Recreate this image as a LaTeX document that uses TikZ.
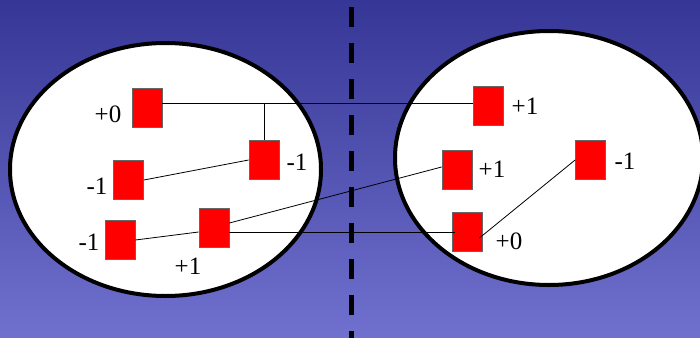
\documentclass[tikz,border=0pt]{standalone}
\usepackage{fontspec}
\setmainfont{Liberation Serif}
\usetikzlibrary{shapes.geometric}
\definecolor{bgtop}{RGB}{54,54,150}
\definecolor{bgbot}{RGB}{112,112,206}
\tikzset{
  cell/.style={rectangle, draw=black!60, line width=0.8pt, fill=red, minimum width=30pt, minimum height=39pt, inner sep=0pt},
  blob/.style={ellipse, draw=black, line width=4pt, fill=white, inner sep=0pt},
  gain/.style={font=\fontsize{25}{27}\selectfont, inner sep=0pt},
  wire/.style={black, line width=0.8pt}
}
\begin{document}
\begin{tikzpicture}[x=1pt, y=-1pt]
    \useasboundingbox (0,0) rectangle (700,337);
    \clip (0,0) rectangle (700,337);
    % Hintergrund
    \shade[top color=bgtop, bottom color=bgbot] (0,0) rectangle (700,337);

    % Trennlinie
    \coordinate (cuttop) at (351,7);
    \coordinate (cutbot) at (351,345);
    \draw[line width=5pt, dash pattern=on 20pt off 16pt] (cuttop) -- (cutbot);

    % die beiden Teilmengen
    \node[blob, minimum width=311pt, minimum height=253pt] (left) at (165.5,169.5) {};
    \node[blob, minimum width=308pt, minimum height=254pt] (right) at (549,158) {};

    % Knoten links
    \node[cell] (a) at (147,108) {};
    \node[cell] (b) at (264,160) {};
    \node[cell] (c) at (128.5,180) {};
    \node[cell] (d) at (214,228) {};
    \node[cell] (e) at (120,240) {};

    % Knoten rechts
    \node[cell] (f) at (488,106) {};
    \node[cell] (g) at (457,170) {};
    \node[cell] (h) at (590.5,160) {};
    \node[cell] (i) at (467,232) {};

    % Gewinne
    \node[gain] (ga) at (108,114) {+0};
    \node[gain] (gb) at (297,162) {-1};
    \node[gain] (gc) at (97,186) {-1};
    \node[gain] (gd) at (188,266) {+1};
    \node[gain] (ge) at (89,242) {-1};
    \node[gain] (gf) at (525,106) {+1};
    \node[gain] (gg) at (492,169) {+1};
    \node[gain] (gh) at (625,161) {-1};
    \node[gain] (gi) at (509,241) {+0};

    % Kanten
    \coordinate (j) at (264,103);
    \draw[wire] (a.east |- j) -- (f.west |- j);
    \draw[wire] (j) -- (b.north);
    \draw[wire] (c.east) -- (b.west);
    \draw[wire] (e.east) -- ([yshift=-4pt]d.west);
    \draw[wire] ([yshift=5pt]d.east) -- ([yshift=3pt]g.west);
    \draw[wire] (d.east |- i.west) -- ([xshift=3pt]i.west);
    \draw[wire] ([shift={(-3pt,-6pt)}]i.east) -- (h.west);
\end{tikzpicture}
\end{document}
